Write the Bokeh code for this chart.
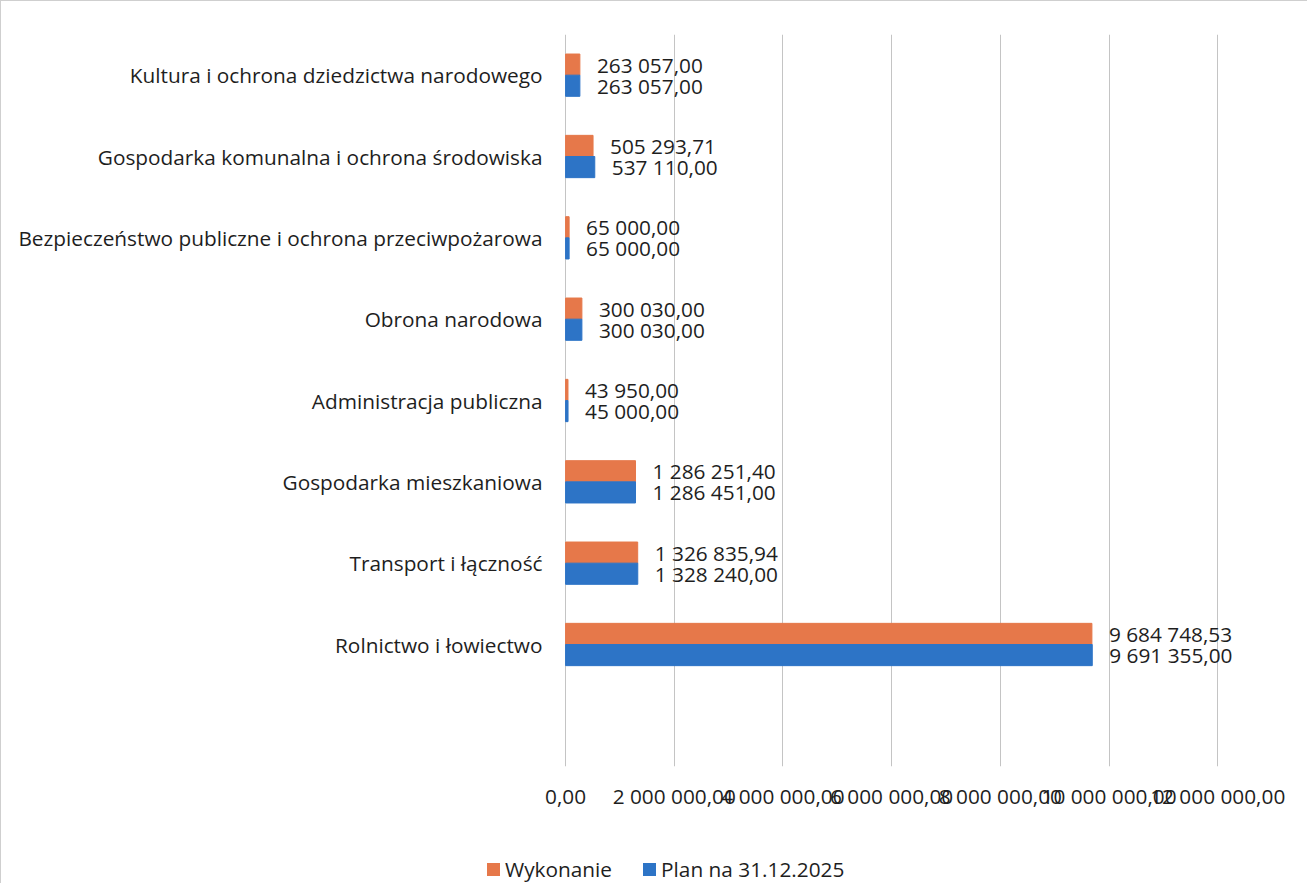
from bokeh.plotting import figure
from bokeh.layouts import column
from bokeh.models import (ColumnDataSource, FactorRange, Range1d, FixedTicker,
                          CustomJSTickFormatter, Div)
from bokeh.transform import dodge
from bokeh.core.properties import value
from bokeh.embed import file_html
from bokeh.resources import INLINE

# ---- data (bottom to top) ----
categories = [
    "Rolnictwo i łowiectwo",
    "Transport i łączność",
    "Gospodarka mieszkaniowa",
    "Administracja publiczna",
    "Obrona narodowa",
    "Bezpieczeństwo publiczne i ochrona przeciwpożarowa",
    "Gospodarka komunalna i ochrona środowiska",
    "Kultura i ochrona dziedzictwa narodowego",
]
wykonanie = [9684748.53, 1326835.94, 1286251.40, 43950.00, 300030.00,
             65000.00, 505293.71, 263057.00]
plan = [9691355.00, 1328240.00, 1286451.00, 45000.00, 300030.00,
        65000.00, 537110.00, 263057.00]
x_ticks = [0, 2000000, 4000000, 6000000, 8000000, 10000000, 12000000]
series_names = ["Wykonanie", "Plan na 31.12.2025"]

ORANGE = "#E6784A"
BLUE = "#2D74C6"
FONT = "Open Sans"
FS = "20.8px"
TXT = "#1e1e1e"
TOTAL_W = 1296


def pl_fmt(v):
    s = f"{v:,.2f}"
    intpart, dec = s.split(".")
    return intpart.replace(",", " ") + "," + dec


src = ColumnDataSource(dict(
    cat=categories,
    wyk=wykonanie,
    plan=plan,
    wyk_lbl=[pl_fmt(v) for v in wykonanie],
    plan_lbl=[pl_fmt(v) for v in plan],
))

factors = [" "] + categories

PX_PER_UNIT = 652 / 12000000
X_START, X_END = -20000, 12750000
frame_w = int(round((X_END - X_START) * PX_PER_UNIT))

p = figure(
    frame_width=frame_w, frame_height=732,
    y_range=FactorRange(factors=factors),
    x_range=Range1d(X_START, X_END),
    output_backend="svg", toolbar_location=None,
    min_border_left=563, min_border_right=TOTAL_W - 563 - frame_w,
    min_border_top=33, min_border_bottom=0,
)
p.outline_line_color = None
p.background_fill_color = "white"
p.border_fill_color = "white"

bh = 0.26
p.hbar(y=dodge("cat", 0.13, range=p.y_range), right="wyk", left=0,
       height=bh, source=src, fill_color=ORANGE, line_color=ORANGE)
p.hbar(y=dodge("cat", -0.13, range=p.y_range), right="plan", left=0,
       height=bh, source=src, fill_color=BLUE, line_color=BLUE)

p.text(x="wyk", y=dodge("cat", 0.13, range=p.y_range), text="wyk_lbl",
       source=src, x_offset=17, text_baseline="middle", text_align="left",
       text_font=value(FONT), text_font_size=FS, text_color=TXT)
p.text(x="plan", y=dodge("cat", -0.13, range=p.y_range), text="plan_lbl",
       source=src, x_offset=17, text_baseline="middle", text_align="left",
       text_font=value(FONT), text_font_size=FS, text_color=TXT)

p.xaxis.ticker = FixedTicker(ticks=x_ticks)
p.xaxis.formatter = CustomJSTickFormatter(code="""
    const s = tick.toFixed(2).split('.');
    return s[0].replace(/\\B(?=(\\d{3})+(?!\\d))/g, ' ') + ',' + s[1];
""")
p.xaxis.axis_line_color = None
p.xaxis.major_tick_line_color = None
p.xaxis.minor_tick_line_color = None
p.xaxis.major_label_standoff = 9
p.xaxis.major_label_text_font = FONT
p.xaxis.major_label_text_font_size = FS
p.xaxis.major_label_text_color = TXT

p.yaxis.axis_line_color = None
p.yaxis.major_tick_line_color = None
p.yaxis.minor_tick_line_color = None
p.yaxis.major_label_standoff = 16
p.yaxis.major_label_text_font = FONT
p.yaxis.major_label_text_font_size = FS
p.yaxis.major_label_text_color = TXT

p.xgrid.grid_line_color = "#c4c4c4"
p.xgrid.grid_line_width = 1
p.ygrid.grid_line_color = None

# ---- legend strip below the chart ----
sq = ('<span style="display:inline-block;width:13px;height:13px;'
      'background:{c};margin-right:5px;vertical-align:middle;"></span>')
legend_html = (
    '<div style="padding-left:481px;padding-top:36px;line-height:28px;'
    f'font-family:\'{FONT}\';font-size:{FS};color:{TXT};white-space:nowrap;">'
    + sq.format(c=ORANGE) + f'<span style="vertical-align:middle;">{series_names[0]}</span>'
    + '<span style="display:inline-block;width:31px;"></span>'
    + sq.format(c=BLUE) + f'<span style="vertical-align:middle;">{series_names[1]}</span>'
    + '</div>'
)
legend_div = Div(text=legend_html, width=TOTAL_W, height=70)

page = column(p, legend_div, spacing=0,
              styles={"border-top": "1px solid #cfcfcf",
                      "border-left": "1px solid #cfcfcf"})

open("out.html", "w").write(file_html(page, INLINE))
